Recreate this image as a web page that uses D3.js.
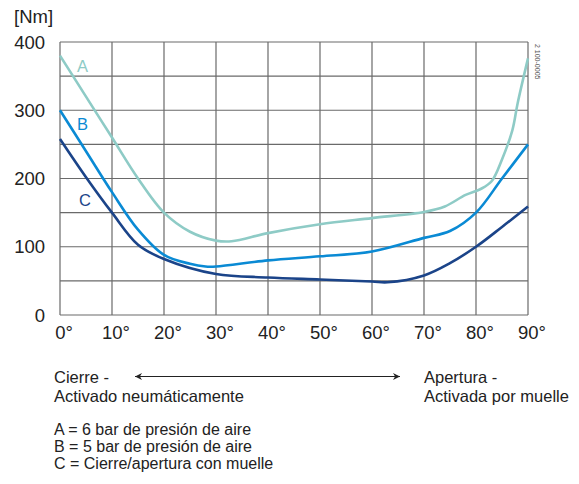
<!DOCTYPE html>
<html>
<head>
<meta charset="utf-8">
<script src="https://cdn.jsdelivr.net/npm/d3@7"></script>
<style>
  body { margin: 0; background: #fff; }
  text { font-family: "Liberation Sans", Arial, sans-serif; }
</style>
</head>
<body>
<div id="draw"></div>
<script>
// angle (deg) -> torque (Nm)
const angles  = [0, 5, 10, 15, 20, 25, 30, 33, 40, 50, 60, 70, 74, 78, 81, 83, 85, 87, 88, 90];
const curveA  = [380, 320, 260, 200, 150, 122, 109, 108, 120, 133, 142, 151, 159, 176, 185, 196, 228, 271, 310, 376];
const anglesB = [0, 5, 10, 15, 20, 25, 28, 30, 40, 50, 60, 70, 75, 80, 85, 90];
const curveB  = [300, 240, 180, 125, 88, 75, 71, 71, 80, 86, 93, 113, 123, 150, 200, 250];
const anglesC = [0, 5, 10, 15, 20, 30, 40, 50, 60, 63, 70, 75, 80, 85, 90];
const curveC  = [258, 202, 150, 103, 82, 60, 55, 52, 49, 48, 58, 76, 100, 129, 159];
const xTicks = [0, 10, 20, 30, 40, 50, 60, 70, 80, 90];
const yTicks = [0, 100, 200, 300, 400];
const legendLines = ["A = 6 bar de presión de aire", "B = 5 bar de presión de aire", "C = Cierre/apertura con muelle"];

let width = 579, height = 484;
let plot = { left: 60, right: 528, top: 42, bottom: 315 };

let svg = d3.select('#draw').append('svg')
    .attr('width', width)
    .attr('height', height);

let x = d3.scaleLinear().domain([0, 90]).range([plot.left, plot.right]);
let y = d3.scaleLinear().domain([0, 400]).range([plot.bottom, plot.top]);

// grid
let grid = svg.append('g').attr('stroke', '#6a6a6a').attr('stroke-width', 1.2);
d3.range(0, 401, 50).forEach(v => {
    grid.append('line').attr('x1', plot.left).attr('x2', plot.right).attr('y1', y(v)).attr('y2', y(v));
});
xTicks.forEach(v => {
    grid.append('line').attr('x1', x(v)).attr('x2', x(v)).attr('y1', plot.top).attr('y2', plot.bottom);
});

// ticks
svg.append('g').selectAll('text').data(yTicks).enter().append('text')
    .attr('x', 45).attr('y', d => y(d) + 6.5)
    .attr('text-anchor', 'end').attr('font-size', 18.5).attr('fill', '#222')
    .text(d => d);
svg.append('g').selectAll('text').data(xTicks).enter().append('text')
    .attr('x', d => x(d) + 4).attr('y', 339)
    .attr('text-anchor', 'middle').attr('font-size', 18.5).attr('fill', '#222')
    .text(d => d + '°');
svg.append('text').attr('x', 14).attr('y', 23).attr('font-size', 18.5).attr('fill', '#222').text('[Nm]');

// curves
let series = [
    { name: 'A', xs: angles, ys: curveA, color: '#8ecbc6', lx: 77, ly: 72 },
    { name: 'B', xs: anglesB, ys: curveB, color: '#0a8ad4', lx: 77, ly: 130 },
    { name: 'C', xs: anglesC, ys: curveC, color: '#1b4489', lx: 79, ly: 206 }
];
let line = d3.line().x(d => x(d[0])).y(d => y(d[1])).curve(d3.curveCatmullRom.alpha(0.5));
series.forEach(s => {
    svg.append('path')
        .attr('d', line(s.xs.map((a, i) => [a, s.ys[i]])))
        .attr('fill', 'none').attr('stroke', s.color).attr('stroke-width', 2.6);
    svg.append('text').attr('x', s.lx).attr('y', s.ly)
        .attr('font-size', 16.5).attr('fill', s.color).text(s.name);
});

// code mark
svg.append('text')
    .attr('transform', 'translate(535,44) rotate(90)')
    .attr('font-size', 7).attr('fill', '#555')
    .text('2 100-0005');

// direction texts and arrow
let t = svg.append('g').attr('font-size', 16.5).attr('fill', '#222');
t.append('text').attr('x', 54).attr('y', 383).text('Cierre -');
t.append('text').attr('x', 54).attr('y', 402).text('Activado neumáticamente');
t.append('text').attr('x', 424).attr('y', 383).text('Apertura -');
t.append('text').attr('x', 424).attr('y', 402).text('Activada por muelle');

svg.append('defs').append('marker')
    .attr('id', 'head').attr('viewBox', '0 0 10 10')
    .attr('refX', 10).attr('refY', 5)
    .attr('markerWidth', 13).attr('markerHeight', 7)
    .attr('markerUnits', 'userSpaceOnUse')
    .attr('orient', 'auto-start-reverse')
    .append('path').attr('d', 'M0,0 L10,5 L0,10 L3,5 Z').attr('fill', '#222');
svg.append('line')
    .attr('x1', 135).attr('x2', 400).attr('y1', 376.5).attr('y2', 376.5)
    .attr('stroke', '#222').attr('stroke-width', 1)
    .attr('marker-start', 'url(#head)').attr('marker-end', 'url(#head)');

svg.append('g').selectAll('text').data(legendLines).enter().append('text')
    .attr('x', 54).attr('y', (d, i) => 435 + i * 17)
    .attr('font-size', 16).attr('fill', '#222')
    .text(d => d);
</script>
</body>
</html>
